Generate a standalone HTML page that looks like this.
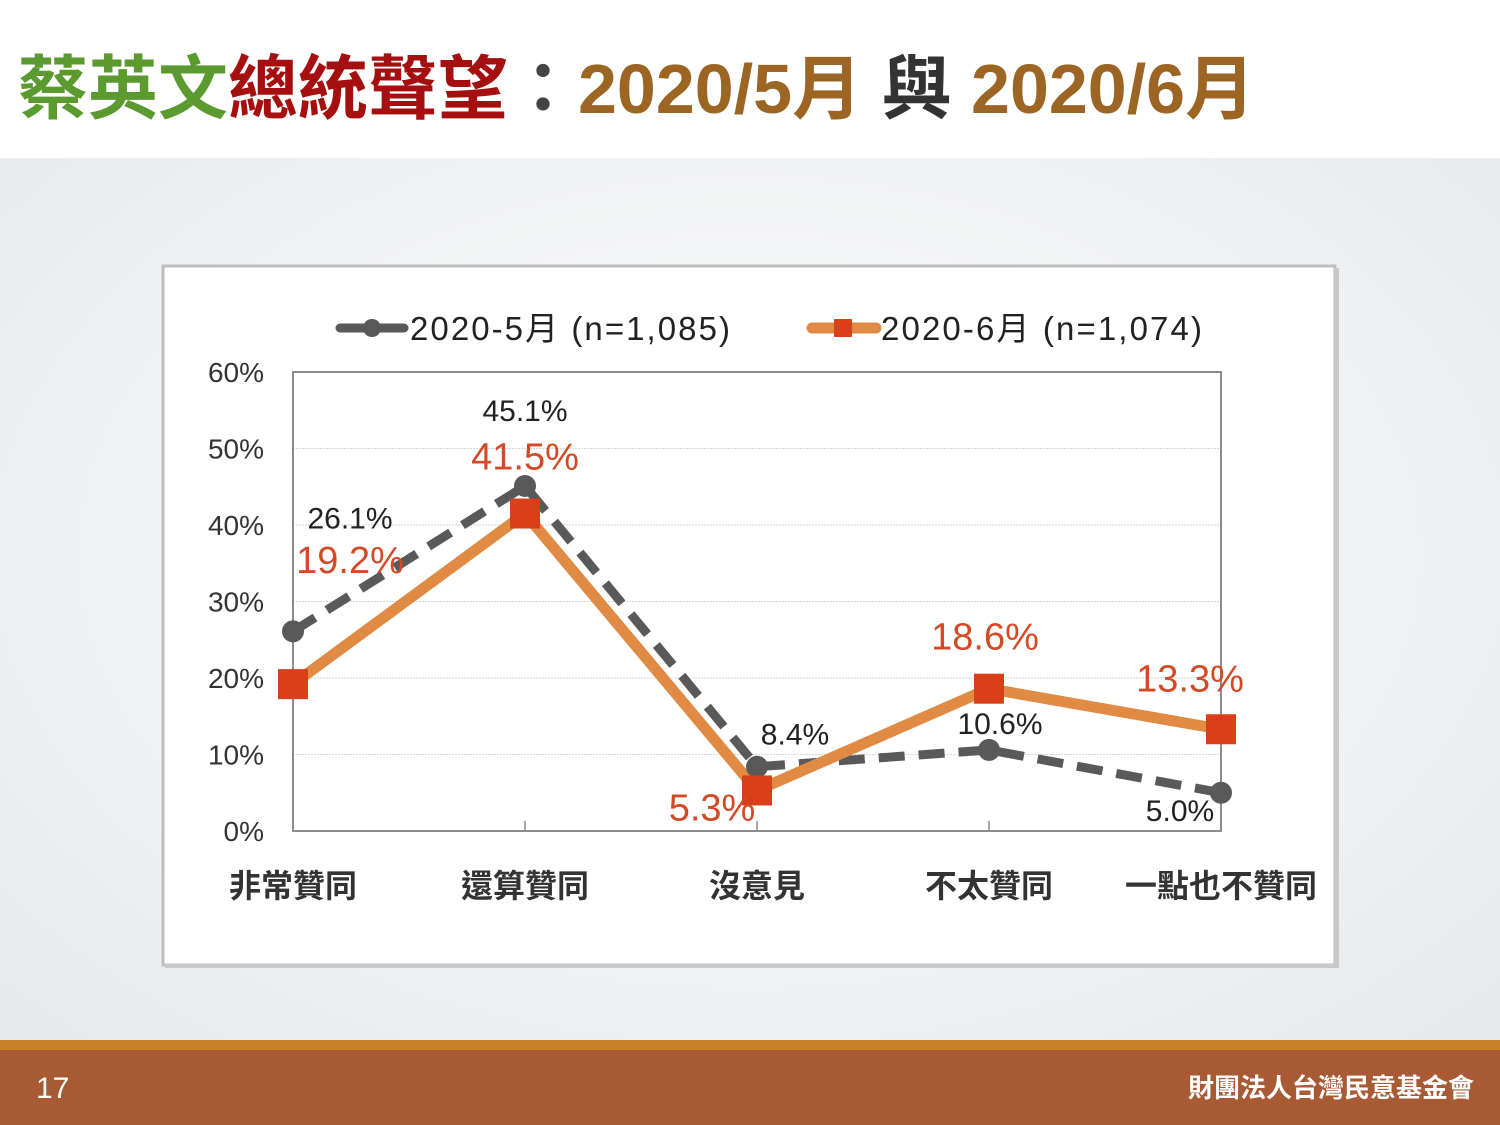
<!DOCTYPE html>
<html><head><meta charset="utf-8">
<style>
body{margin:0;width:1500px;height:1125px;overflow:hidden;font-family:"Liberation Sans","Noto Sans CJK TC",sans-serif;}
#bg{position:absolute;left:0;top:158px;width:1500px;height:882px;background:radial-gradient(ellipse at 50% 45%,#ffffff 0%,#f4f5f6 45%,#e6e8ea 100%);}
#top{position:absolute;left:0;top:0;width:1500px;height:158px;background:#fff;}
#title{position:absolute;left:18px;top:44px;font-size:70px;font-weight:bold;white-space:nowrap;font-family:"Liberation Sans","Noto Sans CJK TC",sans-serif;line-height:90px;}
#stripe{position:absolute;left:0;top:1040px;width:1500px;height:10px;background:#c98127;}
#footer{position:absolute;left:0;top:1050px;width:1500px;height:75px;background:#a75a33;}
</style></head><body>
<div id="top"></div>
<div id="title"><span style="color:#5a9a2e">蔡英文</span><span style="color:#a50f0f">總統聲望</span><span style="color:#444">：</span><span style="color:#9c6524">2020/5月 </span><span style="color:#333">與</span><span style="color:#9c6524"> 2020/6月</span></div>
<div id="bg"></div>
<div id="stripe"></div>
<div id="footer">
<div style="position:absolute;left:36px;top:22px;color:#fff;font-size:30px;">17</div>
<div style="position:absolute;right:26px;top:18px;color:#fff;font-size:26px;font-weight:bold;">財團法人台灣民意基金會</div>
</div>
<svg id="chart" width="1500" height="1125" style="position:absolute;left:0;top:0" font-family="Liberation Sans, Noto Sans CJK TC, sans-serif"></svg>
<script>
const categories=["非常贊同","還算贊同","沒意見","不太贊同","一點也不贊同"];
const may=[26.1,45.1,8.4,10.6,5.0];
const june=[19.2,41.5,5.3,18.6,13.3];
const yTicks=[0,10,20,30,40,50,60];
const mayLabels=["26.1%","45.1%","8.4%","10.6%","5.0%"];
const juneLabels=["19.2%","41.5%","5.3%","18.6%","13.3%"];
const NS="http://www.w3.org/2000/svg";
const svg=document.getElementById('chart');
const X0=293,X1=1221,Y0=831,Y1=372;
function x(i){return X0+i*(X1-X0)/(categories.length-1);}
function y(v){return Y0-(v/60)*(Y0-Y1);}
function mk(tag,attrs,parent){const e=document.createElementNS(NS,tag);for(const k in attrs)e.setAttribute(k,attrs[k]);(parent||svg).appendChild(e);return e;}
const box=mk('rect',{x:163,y:266,width:1172,height:699,fill:'#fff',stroke:'#bdbdbd','stroke-width':3});


mk('rect',{x:1334,y:268,width:5,height:700,fill:'#c8c8c8'});
mk('rect',{x:165,y:964,width:1173,height:4,fill:'#c8c8c8'});
yTicks.forEach(t=>{
 if(t>0&&t<60){const g=mk('line',{x1:X0,x2:X1,y1:y(t),y2:y(t),stroke:'#d6d6d6','stroke-width':1,'stroke-dasharray':'2,1'});
 
 }
 const tl=mk('text',{x:264,y:y(t)+10,'text-anchor':'end','font-size':28,fill:'#333'});
 tl.textContent=t+'%';
 
 
});
const pa=mk('rect',{x:X0,y:Y1,width:X1-X0,height:Y0-Y1,fill:'none',stroke:'#8c8c8c','stroke-width':2});


categories.forEach((c,i)=>{
 mk('line',{x1:x(i),x2:x(i),y1:Y0-10,y2:Y0,stroke:'#8c8c8c','stroke-width':1.5});
 const t=mk('text',{x:x(i),y:897,'text-anchor':'middle','font-size':32,'font-weight':'bold',fill:'#333'});
 t.textContent=c;
 
 
});
const mp=may.map((v,i)=>x(i)+','+y(v)).join(' ');
const ml=mk('polyline',{points:mp,fill:'none',stroke:'#595959','stroke-width':9,'stroke-dasharray':'26,14','stroke-linejoin':'round'});


const jp=june.map((v,i)=>x(i)+','+y(v)).join(' ');
const jl=mk('polyline',{points:jp,fill:'none',stroke:'#e08a44','stroke-width':11,'stroke-linejoin':'round'});


may.forEach((v,i)=>{
 const c=mk('circle',{cx:x(i),cy:y(v),r:11,fill:'#595959'});
 
 
});
june.forEach((v,i)=>{
 const r=mk('rect',{x:x(i)-15,y:y(v)-15,width:30,height:30,fill:'#d9401a'});
 
 
});
const mayOff=[[57,-113],[0,-75],[38,-32],[11,-26],[-41,18]];
const juneOff=[[57,-124],[0,-57],[-45,17],[-4,-52],[-31,-51]];
may.forEach((v,i)=>{
 const t=mk('text',{x:x(i)+mayOff[i][0],y:y(v)+mayOff[i][1]+10,'text-anchor':'middle','font-size':30,fill:'#222'});
 t.textContent=mayLabels[i];
 
 
});
june.forEach((v,i)=>{
 const t=mk('text',{x:x(i)+juneOff[i][0],y:y(v)+juneOff[i][1]+13,'text-anchor':'middle','font-size':38,fill:'#d24a26'});
 t.textContent=juneLabels[i];
 
 
});
const lg=mk('g',{});


mk('line',{x1:340,x2:404,y1:328,y2:328,stroke:'#595959','stroke-width':9,'stroke-linecap':'round'},lg);
mk('circle',{cx:372,cy:328,r:9,fill:'#595959'},lg);
const l1=mk('text',{x:410,y:340,'font-size':33,fill:'#222','xml:space':'preserve'},lg);
l1.textContent='2020-5月  (n=1,085)';


l1.setAttribute('textLength','320');
mk('line',{x1:812,x2:876,y1:328,y2:328,stroke:'#e08a44','stroke-width':11,'stroke-linecap':'round'},lg);
mk('rect',{x:834,y:319,width:18,height:18,fill:'#d9401a'},lg);
const l2=mk('text',{x:881,y:340,'font-size':33,fill:'#222'},lg);
l2.textContent='2020-6月  (n=1,074)';


l2.setAttribute('textLength','321');
</script>
</body></html>
